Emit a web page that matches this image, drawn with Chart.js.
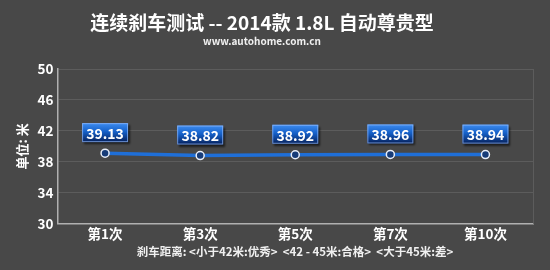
<!DOCTYPE html>
<html>
<head>
<meta charset="utf-8">
<script src="https://cdn.jsdelivr.net/npm/chart.js@4.4.1/dist/chart.umd.min.js"></script>
<style>
    html, body { margin: 0; padding: 0; background: #484848; }
    #wrap { position: relative; width: 550px; height: 270px; }
</style>
</head>
<body>
<div id="wrap"><canvas id="c"></canvas></div>
<script>
(function () {
    'use strict';

    // data
    var categories = ['第1次', '第3次', '第5次', '第7次', '第10次'];
    var distances = [39.13, 38.82, 38.92, 38.96, 38.94];
    var yTicks = [30, 34, 38, 42, 46, 50];

    var TITLE = '连续刹车测试 -- 2014款 1.8L 自动尊贵型';
    var SUBTITLE = 'www.autohome.com.cn';
    var FOOTNOTE = '刹车距离: <小于42米:优秀>  <42 - 45米:合格>  <大于45米:差>';
    var FONT = '"Noto Sans CJK SC", "DejaVu Sans", sans-serif';

    // background, titles, right frame line, footnote
    var decor = {
        id: 'decor',
        beforeDraw: function (chart) {
            var ctx = chart.ctx;
            ctx.save();
            ctx.fillStyle = '#484848';
            ctx.fillRect(0, 0, chart.width, chart.height);
            ctx.restore();
        },
        afterDraw: function (chart) {
            var ctx = chart.ctx;
            var a = chart.chartArea;
            ctx.save();
            ctx.strokeStyle = '#5c5c5c';
            ctx.lineWidth = 1;
            ctx.beginPath();
            ctx.moveTo(Math.round(a.right) + 0.5, a.top);
            ctx.lineTo(Math.round(a.right) + 0.5, a.bottom);
            ctx.stroke();

            ctx.fillStyle = '#ffffff';
            ctx.textAlign = 'center';
            ctx.textBaseline = 'middle';
            ctx.font = 'bold 19px ' + FONT;
            ctx.fillText(TITLE, 262, 23);
            ctx.font = 'bold 10px ' + FONT;
            ctx.fillStyle = '#f0f0f0';
            ctx.fillText(SUBTITLE, 262, 41);
            ctx.font = 'bold 11.5px ' + FONT;
            ctx.fillText(FOOTNOTE, 295, 252);
            ctx.restore();
        }
    };

    // blue value boxes above the points
    var valueBoxes = {
        id: 'valueBoxes',
        afterDatasetsDraw: function (chart) {
            var ctx = chart.ctx;
            var meta = chart.getDatasetMeta(0);
            ctx.save();
            ctx.font = 'bold 14px ' + FONT;
            ctx.textAlign = 'center';
            ctx.textBaseline = 'middle';
            meta.data.forEach(function (pt, i) {
                var w = 46, h = 19;
                var x = pt.x - w / 2, y = pt.y - 30;
                ctx.shadowColor = 'rgba(0,0,0,0.6)';
                ctx.shadowOffsetX = 2;
                ctx.shadowOffsetY = 2;
                ctx.shadowBlur = 2;
                var g = ctx.createLinearGradient(0, y, 0, y + h);
                g.addColorStop(0, '#3d8cf0');
                g.addColorStop(0.45, '#1560c8');
                g.addColorStop(1, '#06205a');
                ctx.fillStyle = g;
                ctx.fillRect(x, y, w, h);
                ctx.shadowColor = 'transparent';
                ctx.strokeStyle = 'rgba(150,190,255,0.7)';
                ctx.lineWidth = 1;
                ctx.strokeRect(x + 0.5, y + 0.5, w - 1, h - 1);
                ctx.fillStyle = '#ffffff';
                ctx.fillText(distances[i].toFixed(2), pt.x, y + h / 2 + 1);
            });
            ctx.restore();
        }
    };

    new Chart(document.getElementById('c'), {
        type: 'line',
        data: {
            labels: categories,
            datasets: [{
                data: distances,
                borderColor: '#1f6fd8',
                borderWidth: 3.5,
                pointRadius: 4,
                pointBorderWidth: 1.5,
                pointBorderColor: '#e8eef8',
                pointBackgroundColor: '#173c78',
                tension: 0
            }]
        },
        options: {
            responsive: true,
            maintainAspectRatio: false,
            animation: false,
            layout: { padding: { top: 69, right: 17, bottom: 26, left: 14 } },
            plugins: {
                legend: { display: false },
                tooltip: { enabled: false }
            },
            scales: {
                x: {
                    offset: true,
                    grid: { display: false, drawTicks: false },
                    border: { color: '#b0b0b0', width: 1.5 },
                    ticks: {
                        color: '#ffffff',
                        font: { family: FONT, size: 13.5, weight: 'bold' },
                        padding: 2
                    }
                },
                y: {
                    min: 30,
                    max: 50,
                    afterBuildTicks: function (axis) {
                        axis.ticks = yTicks.map(function (v) { return { value: v }; });
                    },
                    grid: { color: '#5c5c5c', lineWidth: 1, drawTicks: false },
                    border: { color: '#b0b0b0', width: 1.5 },
                    title: {
                        display: true,
                        text: '单位: 米',
                        color: '#ffffff',
                        font: { family: FONT, size: 13, weight: 'bold' },
                        padding: { top: 0, bottom: 4 }
                    },
                    ticks: {
                        color: '#ffffff',
                        font: { family: FONT, size: 13.5, weight: 'bold' },
                        padding: 4
                    }
                }
            }
        },
        plugins: [decor, valueBoxes]
    });
})();
</script>
</body>
</html>
